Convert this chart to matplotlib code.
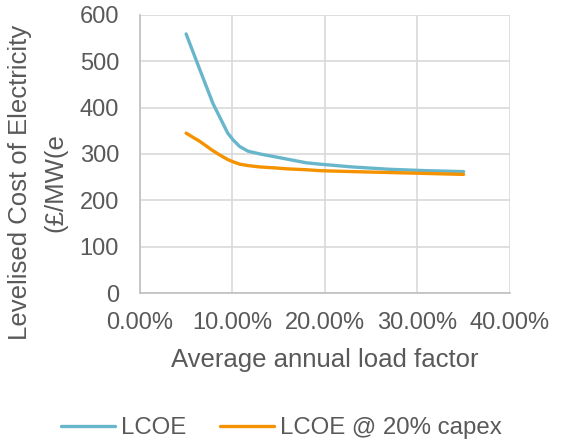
import matplotlib
matplotlib.use("Agg")
import matplotlib.pyplot as plt
from matplotlib.ticker import FuncFormatter, MultipleLocator

plt.rcParams['font.family'] = ['Liberation Sans', 'DejaVu Sans']

# load factor (%) and levelised cost (£/MWh)
load_factor = [5, 6.5, 7.9, 8.8, 9.5, 10.1, 10.8, 11.7, 13, 14.6, 15.9, 18, 19.5, 23, 27, 31, 35]
lcoe = [559, 481, 409, 373, 345, 330, 316, 306, 300, 294, 289, 281, 278, 272, 267, 264, 262]
lcoe_capex = [345, 327, 307, 296, 288, 283, 278, 275, 272, 270, 268, 266, 264, 262, 260, 258, 256]

text_col = '#595959'
grid_col = '#D9D9D9'

fig = plt.figure(figsize=(5.64, 4.4), dpi=100)
ax = fig.add_axes([0.248, 0.334, 0.656, 0.632])

ax.plot(load_factor, lcoe, color='#68B6CB', lw=2.4, label='LCOE',
        solid_capstyle='round', solid_joinstyle='round')
ax.plot(load_factor, lcoe_capex, color='#F59200', lw=2.4, label='LCOE @ 20% capex',
        solid_capstyle='round', solid_joinstyle='round')

ax.set_xlim(0, 40)
ax.set_ylim(0, 600)
ax.xaxis.set_major_locator(MultipleLocator(10))
ax.yaxis.set_major_locator(MultipleLocator(100))
ax.xaxis.set_major_formatter(FuncFormatter(lambda v, p: f'{v:.2f}%'))

ax.grid(True, color=grid_col, lw=1.2)
ax.set_axisbelow(True)
for s in ['top', 'right']:
    ax.spines[s].set_visible(False)
for s in ['left', 'bottom']:
    ax.spines[s].set_color('#BFBFBF')
    ax.spines[s].set_linewidth(1.2)
ax.tick_params(length=0, labelsize=17, colors=text_col)
ax.tick_params(axis='y', pad=15)
ax.tick_params(axis='x', pad=14)

# axis titles placed directly on the figure
fig.text(0.576, 0.182, 'Average annual load factor', fontsize=18.5, color=text_col,
         ha='center', va='center')
fig.text(0.036, 0.586, 'Levelised Cost of Electricity', fontsize=18.5, color=text_col,
         ha='center', va='center', rotation=90)
fig.text(0.098, 0.586, '(£/MW(e', fontsize=18.5, color=text_col,
         ha='center', va='center', rotation=90)

fig.legend(loc='center', bbox_to_anchor=(0.499, 0.027), ncol=2, frameon=False,
           fontsize=17.3, labelcolor=text_col, handlelength=2.25, handletextpad=0.25,
           columnspacing=1.4)

fig.savefig('out.png', dpi=100)
